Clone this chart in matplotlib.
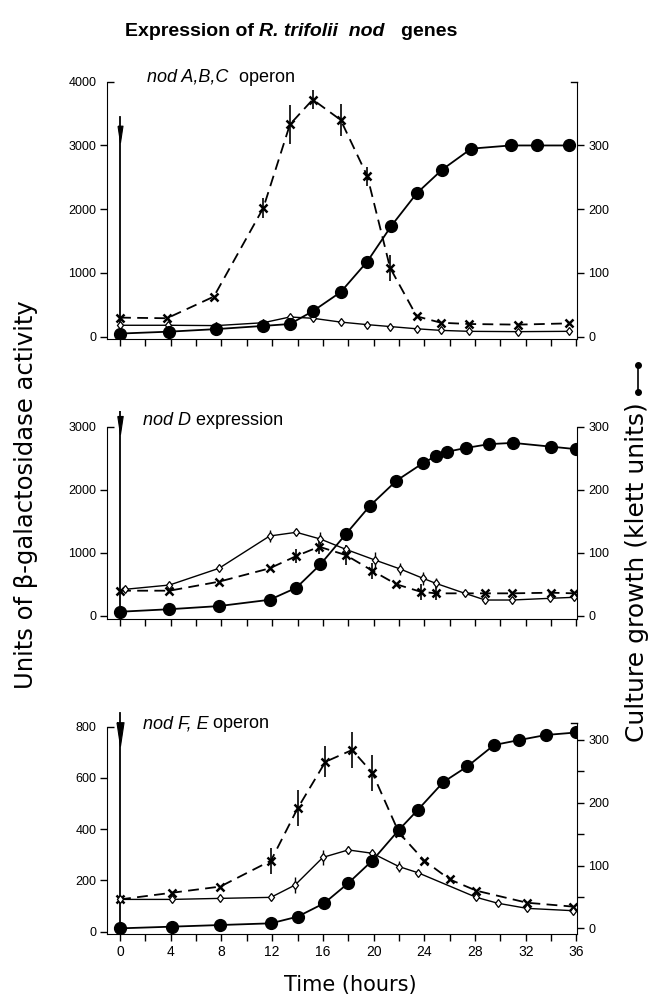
import numpy as np
import matplotlib
matplotlib.use('Agg')
import matplotlib.pyplot as plt
from matplotlib.lines import Line2D

W, H = 651, 998

# ---- data: panel 1, nod A,B,C operon ----
abc_growth_t = [0, 3.9, 7.6, 11.3, 13.4, 15.2, 17.4, 19.5, 21.4, 23.4, 25.4, 27.7, 30.8, 32.9, 35.4]
abc_growth = [5, 8, 12, 17, 20, 40, 70, 118, 174, 225, 262, 295, 300, 300, 300]
abc_cross_t = [0, 3.7, 7.4, 11.3, 13.4, 15.2, 17.4, 19.5, 21.3, 23.4, 25.3, 27.5, 31.4, 35.4]
abc_cross = [300, 290, 630, 2020, 3330, 3720, 3400, 2520, 1080, 320, 220, 200, 190, 210]
abc_cross_err = [0, 0, 0, 150, 300, 150, 250, 150, 200, 0, 0, 0, 0, 0]
abc_diam_t = [0, 3.8, 7.6, 11.3, 13.4, 15.2, 17.4, 19.5, 21.3, 23.4, 25.3, 27.5, 31.4, 35.4]
abc_diam = [180, 180, 175, 220, 310, 290, 230, 190, 160, 125, 100, 85, 80, 85]
abc_diam_err = [0] * 14

# ---- data: panel 2, nod D expression ----
d_growth_t = [0, 3.9, 7.8, 11.8, 13.9, 15.8, 17.8, 19.7, 21.8, 23.9, 24.9, 25.8, 27.3, 29.1, 31.0, 34.0, 36.0]
d_growth = [6, 10, 15, 25, 44, 81, 129, 174, 214, 242, 253, 260, 266, 272, 274, 268, 264]
d_cross_t = [0, 3.9, 7.8, 11.8, 13.9, 15.7, 17.8, 19.9, 21.8, 23.7, 24.9, 28.8, 30.9, 34.0, 35.8]
d_cross = [394, 394, 537, 749, 944, 1092, 960, 711, 495, 378, 352, 352, 352, 362, 352]
d_cross_err = [0, 0, 0, 0, 110, 110, 160, 130, 0, 130, 110, 0, 0, 0, 0]
d_diam_t = [0.4, 3.9, 7.8, 11.8, 13.9, 15.8, 17.8, 20.1, 22.1, 23.9, 24.9, 27.2, 28.8, 30.9, 33.9, 35.8]
d_diam = [416, 484, 749, 1262, 1321, 1214, 1051, 881, 738, 590, 511, 352, 246, 246, 273, 289]
d_diam_err = [0, 0, 0, 100, 30, 110, 0, 130, 100, 100, 80, 0, 0, 0, 0, 0]

# ---- data: panel 3, nod F,E operon ----
fe_growth_t = [0, 4.1, 7.9, 11.9, 14.0, 16.1, 18.0, 19.9, 22.0, 23.5, 25.5, 27.4, 29.5, 31.5, 33.6, 36.0]
fe_growth = [0, 2.7, 5.3, 8, 18.6, 40, 72, 108, 157, 189, 233, 258, 292, 300, 308, 312]
fe_cross_t = [0, 4.1, 7.9, 11.9, 14.0, 16.2, 18.3, 19.9, 22.0, 24.0, 26.0, 28.1, 32.1, 35.7]
fe_cross = [126, 152, 176, 277, 481, 663, 709, 620, 386, 277, 204, 160, 113, 98]
fe_cross_err = [0, 0, 0, 50, 70, 60, 70, 70, 0, 0, 0, 0, 0, 0]
fe_diam_t = [0, 4.1, 7.9, 11.9, 13.8, 16.0, 18.0, 19.9, 22.0, 23.5, 28.1, 29.8, 32.1, 35.7]
fe_diam = [126, 126, 130, 134, 182, 290, 319, 306, 254, 230, 134, 111, 91, 82]
fe_diam_err = [0, 0, 0, 0, 30, 30, 15, 0, 20, 0, 0, 0, 0, 0]

x_ticks = np.arange(0, 37, 2)
x_labels = [str(v) if v % 4 == 0 else '' for v in x_ticks]

narrow = ['Liberation Sans Narrow', 'Liberation Sans']
XLIM = (-0.99, 36.04)

# long thin arrow head (pointing down)
head = [(-0.3, 1), (0.3, 1), (0, -1), (-0.3, 1)]

fig = plt.figure(figsize=(W / 100, H / 100), dpi=100)


def add_px_axes(top, bottom, left=107.5, right=577):
    return fig.add_axes([left / W, 1 - bottom / H, (right - left) / W, (bottom - top) / H])


def chain_text(ax, x, y, parts, size, coords):
    # text pieces one after another on a common baseline
    prev = ax.text(x, y, parts[0][0], transform=coords, fontsize=size,
                   fontstyle=parts[0][1], fontweight=parts[0][2], family=narrow,
                   va='baseline', ha='left')
    for s, style, weight in parts[1:]:
        prev = ax.annotate(s, xy=(1, 0), xycoords=prev, va='bottom', ha='left',
                           fontsize=size, fontstyle=style, fontweight=weight,
                           family=narrow, annotation_clip=False)
    return prev


def draw_panel(ax, ylim, yticks, rylim, rticks, rminor, right_top, right_bracket,
               growth_t, growth, cross_t, cross, cross_err, diam_t, diam, diam_err,
               arrow_top, arrow_head, head_ms, bottom_labels):
    ax.set_xlim(*XLIM)
    ax.set_ylim(*ylim)
    ax.spines['top'].set_visible(False)
    ax.spines['right'].set_visible(False)
    ax.spines['left'].set_bounds(ylim[0], yticks[-1])
    # top tick points inwards, the rest outwards
    ax.set_yticks(yticks[:-1])
    ax.set_yticklabels([str(v) for v in yticks[:-1]], family=narrow, fontsize=9)
    ax.set_yticks([yticks[-1]], minor=True)
    ax.set_yticklabels([str(yticks[-1])], minor=True, family=narrow, fontsize=9)
    ax.set_xticks(x_ticks)
    if bottom_labels:
        ax.set_xticklabels(x_labels, family=narrow, fontsize=10)
    else:
        ax.set_xticklabels([])
    ax.tick_params(direction='out', length=5, width=1, pad=3)
    ax.tick_params(axis='y', which='minor', direction='in', length=5, width=1, pad=8)

    # dashed crosses series
    ax.plot(cross_t, cross, color='black', lw=1.3, dashes=(6, 3.5))
    ax.errorbar(cross_t, cross, yerr=cross_err, fmt='x', color='black', ms=6,
                mew=1.8, elinewidth=1.2, capsize=0)
    # thin open diamonds series
    ax.plot(diam_t, diam, color='black', lw=1.0)
    ax.errorbar(diam_t, diam, yerr=diam_err, fmt='d', color='black', ms=4.5,
                mfc='white', mew=0.9, elinewidth=1.0, capsize=0)
    # addition arrow at t = 0
    ax.plot([0, 0], [0, arrow_top], color='black', lw=1.3)
    ax.plot([0], [arrow_head], marker=head, color='black', ms=head_ms, mew=0.8)

    rax = ax.twinx()
    rax.set_ylim(*rylim)
    for s in ['top', 'left', 'bottom']:
        rax.spines[s].set_visible(False)
    rax.spines['right'].set_bounds(rylim[0], right_top)
    rax.set_yticks(rticks)
    rax.set_yticklabels([str(v) for v in rticks], family=narrow, fontsize=9)
    rax.set_yticks(rminor, minor=True)
    rax.tick_params(direction='out', length=5, width=1, pad=3, which='both')
    if right_bracket:
        rax.plot([XLIM[1] - 0.45, XLIM[1]], [right_top, right_top], color='black',
                 lw=1, clip_on=False)
    rax.plot(growth_t, growth, color='black', lw=1.3, marker='o', ms=8.5)
    return rax


ax1 = add_px_axes(81.7, 339.3)
r1 = draw_panel(ax1, (-40, 4000), [0, 1000, 2000, 3000, 4000],
                (-4, 400), [0, 100, 200, 300], [], 400, True,
                abc_growth_t, abc_growth, abc_cross_t, abc_cross, abc_cross_err,
                abc_diam_t, abc_diam, abc_diam_err, 3450, 3180, 12, False)

ax2 = add_px_axes(410.75, 619.3)
r2 = draw_panel(ax2, (-60, 3250), [0, 1000, 2000, 3000],
                (-6, 325), [0, 100, 200, 300], [], 300, False,
                d_growth_t, d_growth, d_cross_t, d_cross, d_cross_err,
                d_diam_t, d_diam, d_diam_err, 3240, 3020, 13, False)

ax3 = add_px_axes(711.3, 934)
r3 = draw_panel(ax3, (-9, 860), [0, 200, 400, 600, 800],
                (-9.0, 345.7), [0, 100, 200, 300], [50, 150, 250], 327, True,
                fe_growth_t, fe_growth, fe_cross_t, fe_cross, fe_cross_err,
                fe_diam_t, fe_diam, fe_diam_err, 855, 770, 17, True)

# panel titles
chain_text(ax1, 0.085, 1.0, [('nod A,B,C', 'italic', 'normal'), ('  operon', 'normal', 'normal')],
           13, ax1.transAxes)
chain_text(ax2, 0.075, 0.93, [('nod D', 'italic', 'normal'), (' expression', 'normal', 'normal')],
           13, ax2.transAxes)
chain_text(ax3, 0.075, 0.925, [('nod F, E', 'italic', 'normal'), (' operon', 'normal', 'normal')],
           13, ax3.transAxes)

# main title
chain_text(ax1, 125 / W, 1 - 36 / H,
           [('Expression of ', 'normal', 'bold'), ('R. trifolii', 'italic', 'bold'),
            ('  nod', 'italic', 'bold'), ('   genes', 'normal', 'bold')],
           14, fig.transFigure)

fig.text(350 / W, 1 - 985 / H, 'Time (hours)', ha='center', va='center',
         fontsize=15, family='DejaVu Sans')
fig.text(26 / W, 1 - 495 / H, 'Units of β-galactosidase activity', rotation=90,
         ha='center', va='center', fontsize=17.5, family='DejaVu Sans')
fig.text(637 / W, 1 - 742 / H, 'Culture growth (klett units)', rotation=90,
         ha='center', va='bottom', fontsize=18, family='DejaVu Sans')
fig.add_artist(Line2D([638 / W, 638 / W], [1 - 392 / H, 1 - 365 / H], color='black',
                      lw=1.2, marker='o', ms=4, transform=fig.transFigure))

fig.savefig('out.png', dpi=100)
